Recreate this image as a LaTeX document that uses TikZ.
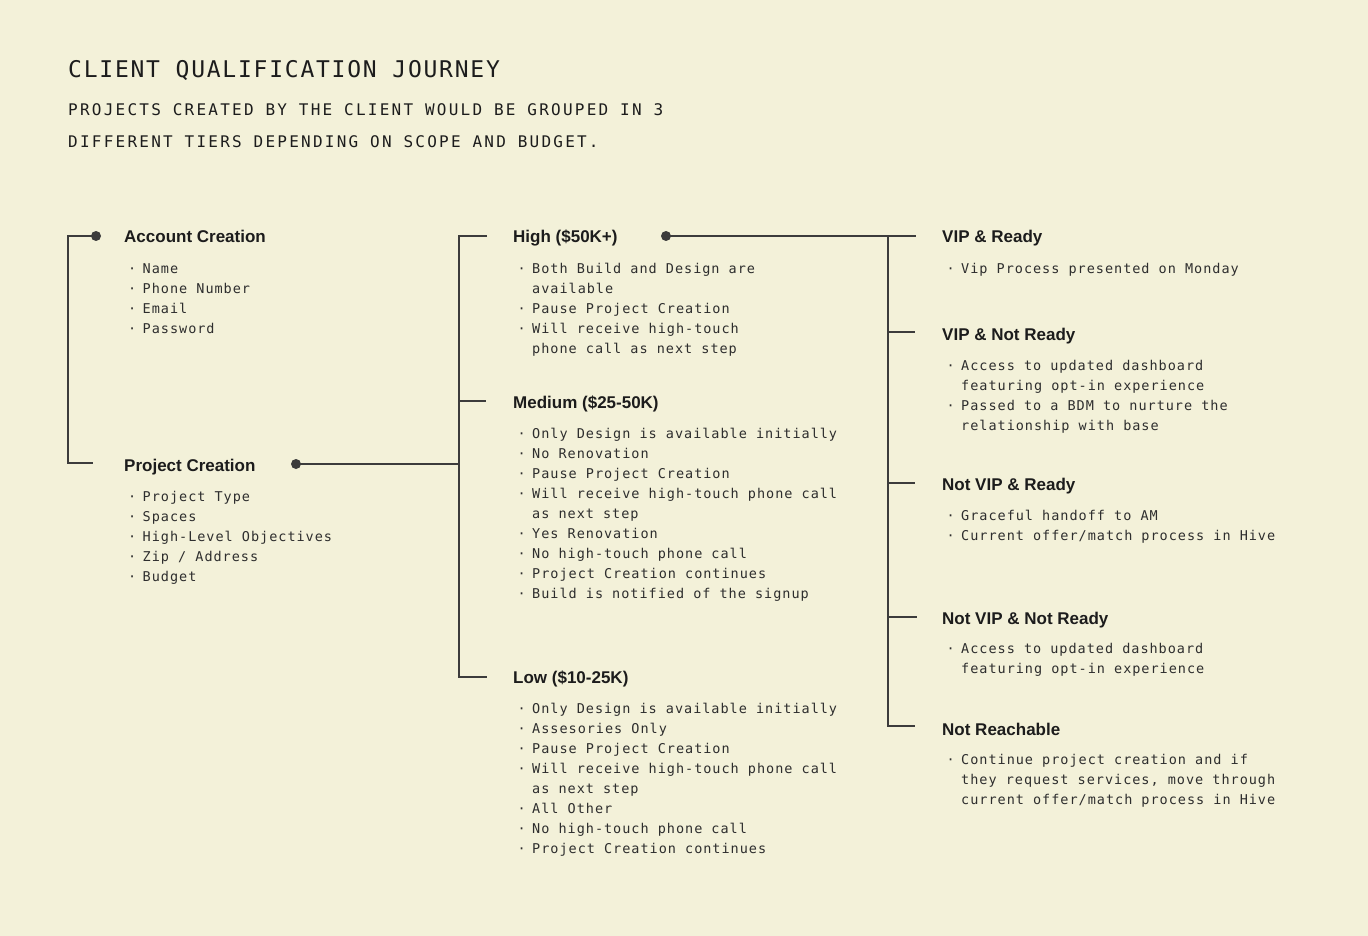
\documentclass[tikz,border=0pt]{standalone}
\usepackage{fontspec}
\setmainfont{Liberation Sans}
\newfontfamily\titlefont[LetterSpace=7.65]{DejaVu Sans Mono}
\newfontfamily\subfont[LetterSpace=14]{DejaVu Sans Mono}
\newfontfamily\bodyfont[LetterSpace=7.3]{DejaVu Sans Mono}
\definecolor{bg}{HTML}{F3F1D9}
\definecolor{ink}{HTML}{1C1C1C}
\definecolor{bodyink}{HTML}{2E2E2E}
\definecolor{linec}{HTML}{3C3C3C}
\newcommand{\bl}{\makebox[14.5pt][l]{·}}
\newcommand{\cont}{\hspace*{14.5pt}}
\begin{document}
\begin{tikzpicture}[x=1pt,y=-1pt,
  head/.style={font=\bfseries\fontsize{17}{20}\selectfont, text=ink, anchor=base west, inner sep=0pt},
  body/.style={font=\bodyfont\fontsize{13.5}{20}\selectfont, text=bodyink, align=left, anchor=north west, inner sep=0pt},
  dotn/.style={circle, fill=linec, inner sep=0pt, minimum size=10pt},
  conn/.style={draw=linec, line width=2pt}]
\fill[bg] (0,0) rectangle (1368,936);
\useasboundingbox (0,0) rectangle (1368,936);

% title
\node[anchor=base west, inner sep=0pt, text=ink, font=\titlefont\fontsize{23}{28}\selectfont] (title) at (68,78) {CLIENT QUALIFICATION JOURNEY};
\node[anchor=north west, inner sep=0pt, text=ink, align=left, font=\subfont\fontsize{16}{32}\selectfont] (sub) at (68,92.6) {\strut PROJECTS CREATED BY THE CLIENT WOULD BE GROUPED IN 3\\DIFFERENT TIERS DEPENDING ON SCOPE AND BUDGET.};

% left column
\node[head] (hAcc) at (124,243) {Account Creation};
\node[body] (bAcc) at (128,259) {\strut\bl Name\\\bl Phone Number\\\bl Email\\\bl Password};
\node[head] (hProj) at (124,471) {Project Creation};
\node[body] (bProj) at (128,487) {\strut\bl Project Type\\\bl Spaces\\\bl High-Level Objectives\\\bl Zip / Address\\\bl Budget};

% middle column
\node[head] (hHigh) at (513,243) {High (\$50K+)};
\node[body] (bHigh) at (517.5,259) {\strut\bl Both Build and Design are\\\cont available\\\bl Pause Project Creation\\\bl Will receive high-touch\\\cont phone call as next step};
\node[head] (hMed) at (513,408) {Medium (\$25-50K)};
\node[body] (bMed) at (517.5,424) {\strut\bl Only Design is available initially\\\bl No Renovation\\\bl Pause Project Creation\\\bl Will receive high-touch phone call\\\cont as next step\\\bl Yes Renovation\\\bl No high-touch phone call\\\bl Project Creation continues\\\bl Build is notified of the signup};
\node[head] (hLow) at (513,683) {Low (\$10-25K)};
\node[body] (bLow) at (517.5,699) {\strut\bl Only Design is available initially\\\bl Assesories Only\\\bl Pause Project Creation\\\bl Will receive high-touch phone call\\\cont as next step\\\bl All Other\\\bl No high-touch phone call\\\bl Project Creation continues};

% right column
\node[head] (hVR) at (942,243) {VIP \& Ready};
\node[body] (bVR) at (946.5,259) {\strut\bl Vip Process presented on Monday};
\node[head] (hVNR) at (942,340) {VIP \& Not Ready};
\node[body] (bVNR) at (946.5,356) {\strut\bl Access to updated dashboard\\\cont featuring opt-in experience\\\bl Passed to a BDM to nurture the\\\cont relationship with base};
\node[head] (hNVR) at (942,490) {Not VIP \& Ready};
\node[body] (bNVR) at (946.5,506) {\strut\bl Graceful handoff to AM\\\bl Current offer/match process in Hive};
\node[head] (hNVNR) at (942,624) {Not VIP \& Not Ready};
\node[body] (bNVNR) at (946.5,639) {\strut\bl Access to updated dashboard\\\cont featuring opt-in experience};
\node[head] (hNR) at (942,735) {Not Reachable};
\node[body] (bNR) at (946.5,750) {\strut\bl Continue project creation and if\\\cont they request services, move through\\\cont current offer/match process in Hive};

% dots
\node[dotn] (dAcc) at (96,236) {};
\node[dotn] (dProj) at (296,464) {};
\node[dotn] (dHigh) at (666,236) {};

% connector coordinates
\coordinate (aTop) at (68,236);
\coordinate (aBot) at (68,463);
\coordinate (aEnd) at (93,463);
\coordinate (mJoin) at (459,464);
\coordinate (mTop) at (459,236);
\coordinate (mTopE) at (487,236);
\coordinate (mMid) at (459,401);
\coordinate (mMidE) at (486,401);
\coordinate (mBot) at (459,677);
\coordinate (mBotE) at (487,677);
\coordinate (rTop) at (888,236);
\coordinate (rTopE) at (916,236);
\coordinate (r2) at (888,332);
\coordinate (r2E) at (915,332);
\coordinate (r3) at (888,483);
\coordinate (r3E) at (915,483);
\coordinate (r4) at (888,617);
\coordinate (r4E) at (917,617);
\coordinate (r5) at (888,726);
\coordinate (r5E) at (915,726);

% connectors
\draw[conn] (dAcc.center) -- (aTop) -- (aBot) -- (aEnd);
\draw[conn] (dProj.center) -- (mJoin);
\draw[conn] (mTopE) -- (mTop) -- (mBot) -- (mBotE);
\draw[conn] (mMid) -- (mMidE);
\draw[conn] (dHigh.center) -- (rTopE);
\draw[conn] (rTop) -- (r5) -- (r5E);
\draw[conn] (r2) -- (r2E);
\draw[conn] (r3) -- (r3E);
\draw[conn] (r4) -- (r4E);
\end{tikzpicture}
\end{document}
